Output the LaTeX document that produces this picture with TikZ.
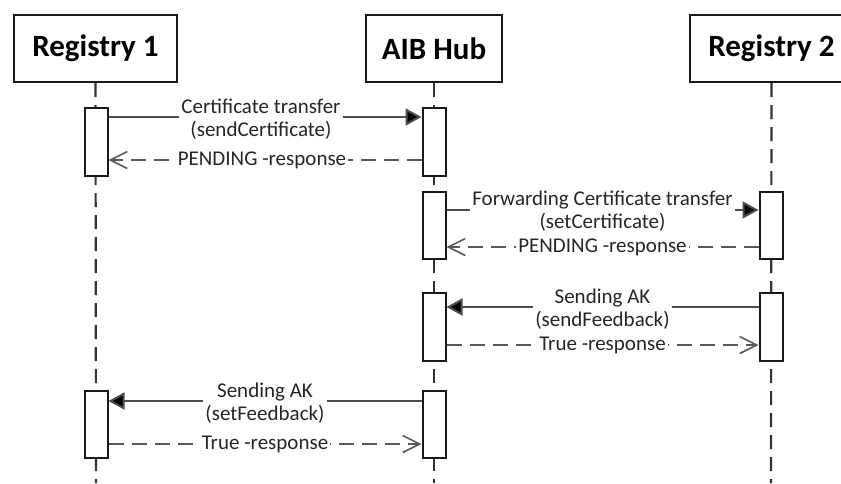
\documentclass[tikz,border=0pt]{standalone}
\usepackage{fontspec}
\setmainfont{Carlito}
\usetikzlibrary{arrows.meta}
\begin{document}
\begin{tikzpicture}[x=1pt,y=-1pt,
 header/.style={draw=black!90,line width=2pt,minimum width=163pt,minimum height=67pt,font=\fontsize{31}{34}\selectfont\bfseries,inner sep=0pt},
 act/.style={draw=black!90,line width=2pt,fill=white,minimum width=23pt,minimum height=67pt,inner sep=0pt},
 life/.style={draw=black!80,line width=2.2pt,dash pattern=on 14pt off 8pt},
 callmsg/.style={draw=black!70,line width=2pt,-{Triangle[length=16pt,width=17pt,fill=black]}},
 retmsg/.style={draw=black!65,line width=2pt,dash pattern=on 15pt off 8pt,-{Straight Barb[length=17pt,width=17pt,line width=1.6pt]}},
 lbl/.style={fill=white,inner sep=2pt,align=center,font=\fontsize{21}{23}\selectfont,text=black!85}]
\useasboundingbox (0,0) rectangle (841,483);
\clip (0,0) rectangle (841,483);
% headers
\node[header] (r1) at (95.5,48.5) {Registry 1};
\node[header,minimum width=136pt] (hub) at (434,48.5) {AIB Hub};
\node[header] (r2) at (771.5,48.5) {Registry 2};
% lifeline ends
\coordinate (r1end) at (96,483);
\coordinate (hubend) at (434,483);
\coordinate (r2end) at (771,483);
\draw[life] (r1.south) -- (r1end);
\draw[life] (hub.south) -- (hubend);
\draw[life] (r2.south) -- (r2end);
% activations
\node[act,minimum height=68pt] (r1a) at (96,142) {};
\node[act,minimum height=68pt] (h1) at (434,142) {};
\node[act] (h2) at (434,225.5) {};
\node[act] (r2a) at (771,225.5) {};
\node[act,minimum height=68pt] (h3) at (434,327) {};
\node[act,minimum height=68pt] (r2b) at (771,327) {};
\node[act] (h4) at (434,424.5) {};
\node[act] (r1b) at (96,424.5) {};
% messages
\draw[callmsg] ([yshift=-10pt]r1a.north east) -- node[lbl,yshift=-2pt,xshift=-4pt]{Certificate transfer\\(sendCertificate)} ([yshift=-10pt]h1.north west);
\draw[retmsg] ([yshift=-53pt]h1.north west) -- node[lbl,xshift=-3pt]{PENDING -response} ([yshift=-53pt]r1a.north east);
\draw[callmsg] ([yshift=-19pt]h2.north east) -- node[lbl,yshift=-1pt]{Forwarding Certificate transfer\\(setCertificate)} ([yshift=-19pt]r2a.north west);
\draw[retmsg] ([yshift=-56pt]r2a.north west) -- node[lbl]{PENDING -response} ([yshift=-56pt]h2.north east);
\draw[callmsg] ([yshift=-15pt]r2b.north west) -- node[lbl,yshift=-2pt]{Sending AK\\(sendFeedback)} ([yshift=-15pt]h3.north east);
\draw[retmsg] ([yshift=-53pt]h3.north east) -- node[lbl]{True -response} ([yshift=-53pt]r2b.north west);
\draw[callmsg] ([yshift=-11pt]h4.north west) -- node[lbl,yshift=-2pt]{Sending AK\\(setFeedback)} ([yshift=-11pt]r1b.north east);
\draw[retmsg] ([yshift=-54pt]r1b.north east) -- node[lbl]{True -response} ([yshift=-54pt]h4.north west);
\end{tikzpicture}
\end{document}
